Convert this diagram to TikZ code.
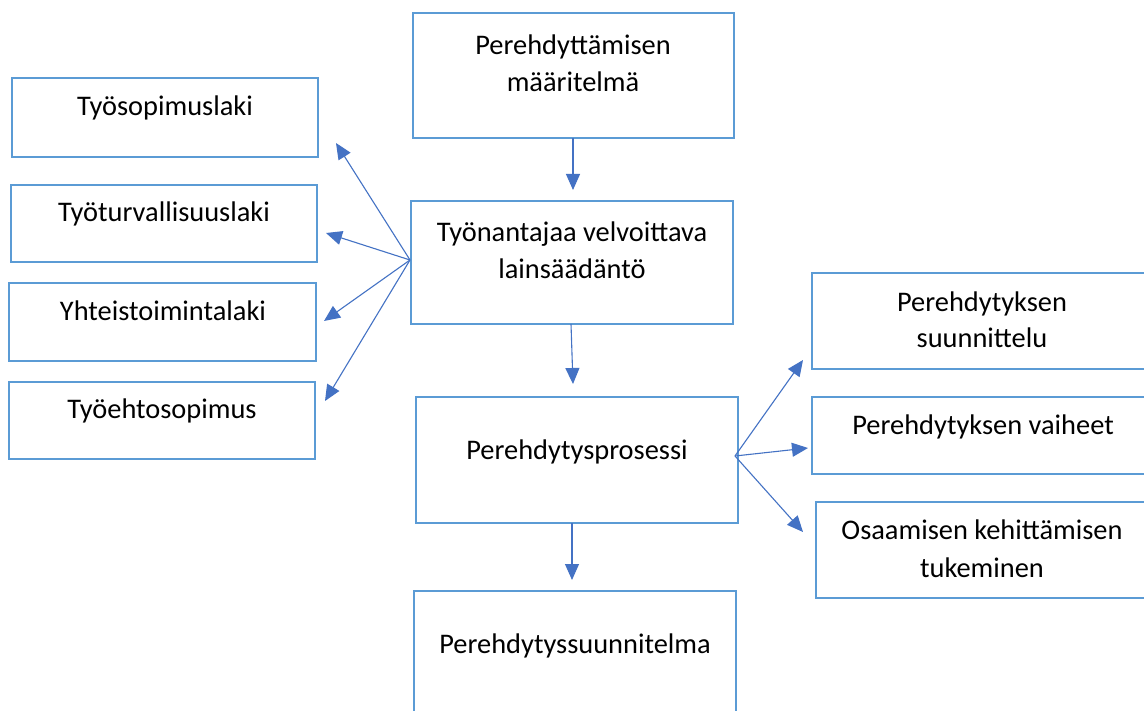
\documentclass[tikz,border=0pt]{standalone}
\usepackage{fontspec}
\setmainfont{Carlito}
\usetikzlibrary{arrows.meta}
\definecolor{boxcol}{RGB}{91,155,213}
\definecolor{arrcol}{RGB}{68,114,196}
\tikzset{
  box/.style={draw=boxcol, line width=2.6pt, rectangle, inner sep=0pt, fill=white},
  txt/.style={anchor=base, inner sep=0pt, font=\fontsize{28.4}{37}\selectfont, text=black},
  conn/.style={draw=arrcol, line width=1.1pt, -{Triangle[length=16pt,width=14pt]}}
}
\begin{document}
\begin{tikzpicture}[x=1pt,y=-1pt]
\useasboundingbox (0,0) rectangle (1144,711);
\fill[white] (0,0) rectangle (1144,711);
\begin{scope}
\clip (0,0) rectangle (1144,711);
% central column
\node[box, minimum width=321pt, minimum height=125pt] (A) at (573.5,75.5) {};
\node[txt] (A1) at (573,55) {Perehdyttämisen};
\node[txt] (A2) at (573,92) {määritelmä};
\node[box, minimum width=322pt, minimum height=123pt] (B) at (572,262.5) {};
\node[txt] (B1) at (572,242) {Työnantajaa velvoittava};
\node[txt] (B2) at (572,279) {lainsäädäntö};
\node[box, minimum width=322pt, minimum height=126pt] (C) at (577,460) {};
\node[txt] (C1) at (577,459) {Perehdytysprosessi};
\node[box, minimum width=322pt, minimum height=160pt] (D) at (575,671) {};
\node[txt] (D1) at (575,653) {Perehdytyssuunnitelma};
% left column
\node[box, minimum width=306pt, minimum height=79pt] (L1) at (165,117.5) {};
\node[txt] (L1t) at (165,116) {Työsopimuslaki};
\node[box, minimum width=306pt, minimum height=77pt] (L2) at (164,223.5) {};
\node[txt] (L2t) at (164,222) {Työturvallisuuslaki};
\node[box, minimum width=307pt, minimum height=78pt] (L3) at (162.5,322) {};
\node[txt] (L3t) at (163,321) {Yhteistoimintalaki};
\node[box, minimum width=306pt, minimum height=77pt] (L4) at (162,420.5) {};
\node[txt] (L4t) at (162,419) {Työehtosopimus};
% right column
\node[box, minimum width=342pt, minimum height=96pt] (R1) at (983,321) {};
\node[txt] (R1a) at (982,312) {Perehdytyksen};
\node[txt] (R1b) at (982,348) {suunnittelu};
\node[box, minimum width=342pt, minimum height=77pt] (R2) at (983,435.5) {};
\node[txt] (R2t) at (983,435) {Perehdytyksen vaiheet};
\node[box, minimum width=338pt, minimum height=96pt] (R3) at (985,550) {};
\node[txt] (R3a) at (982,539) {Osaamisen kehittämisen};
\node[txt] (R3b) at (982,577) {tukeminen};
% connector coordinates
\coordinate (ab1) at (573,138);
\coordinate (ab2) at (573,190);
\coordinate (bc1) at (571,324);
\coordinate (bc2) at (573,384);
\coordinate (cd1) at (572,523);
\coordinate (cd2) at (572,580);
\coordinate (ls) at (410,260);
\coordinate (lt1) at (336,143);
\coordinate (lt2) at (326,233);
\coordinate (lt3) at (324,321);
\coordinate (lt4) at (325,401);
\coordinate (rs) at (735,456);
\coordinate (rt1) at (803,360);
\coordinate (rt2) at (808,448);
\coordinate (rt3) at (803,532);
% connectors
\draw[conn] (ab1) -- (ab2);
\draw[conn] (bc1) -- (bc2);
\draw[conn] (cd1) -- (cd2);
\draw[conn] (ls) -- (lt1);
\draw[conn] (ls) -- (lt2);
\draw[conn] (ls) -- (lt3);
\draw[conn] (ls) -- (lt4);
\draw[conn] (rs) -- (rt1);
\draw[conn] (rs) -- (rt2);
\draw[conn] (rs) -- (rt3);
\end{scope}
\end{tikzpicture}
\end{document}
